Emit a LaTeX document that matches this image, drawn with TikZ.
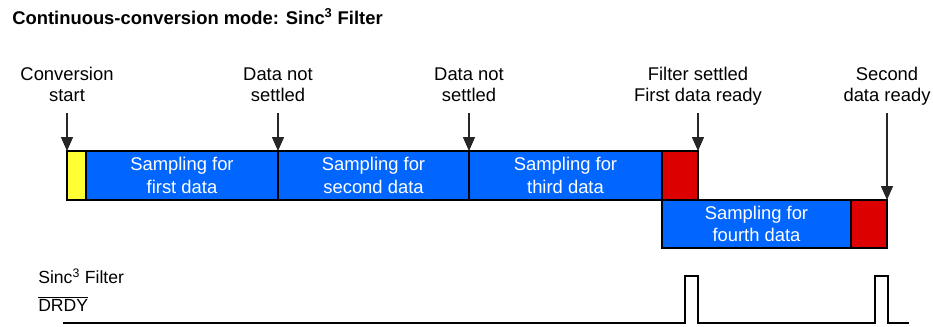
\documentclass[tikz,border=0pt]{standalone}
\usepackage{fontspec}
\setmainfont{Liberation Sans}
\usepackage{xcolor}
\usetikzlibrary{arrows.meta,positioning}

\definecolor{smpblue}{HTML}{0066FF}
\definecolor{startyellow}{HTML}{FFFF33}
\definecolor{readyred}{HTML}{DD0000}

\tikzset{
	slot/.style={draw=black, line width=1.5pt, inner sep=0pt, outer sep=0pt, text=white, align=center, font=\fontsize{13.8}{17}\selectfont},
	smp/.style={slot, fill=smpblue},
	rdy/.style={slot, fill=readyred},
	lbl/.style={inner sep=0pt, align=center, text depth=0pt, anchor=south, font=\fontsize{13.8}{15.8}\selectfont},
	sig/.style={inner sep=0pt, anchor=base west, font=\fontsize{13.2}{15.8}\selectfont},
	evt/.style={draw=black!85, line width=1.1pt, -{Triangle[length=10.5pt,width=9pt]}},
	wave/.style={draw=black, line width=1.5pt}
}

\begin{document}
\begin{tikzpicture}[x=0.75pt, y=-0.75pt]
	\useasboundingbox (0,0) rectangle (933,326);

	\node[anchor=base west, inner sep=0pt, font=\bfseries\fontsize{13.8}{16}\selectfont] (title) at (12,24) {Continuous-conversion mode: Sinc\textsuperscript{3} Filter};

	\node[slot, fill=startyellow, anchor=north west, minimum width=14.25pt, minimum height=36.75pt] (yel) at (67,151) {};
	\node[smp, right=0pt of yel, minimum width=144pt, minimum height=36.75pt] (s1) {Sampling for\\first data};
	\node[smp, right=0pt of s1, minimum width=143.25pt, minimum height=36.75pt] (s2) {Sampling for\\second data};
	\node[smp, right=0pt of s2, minimum width=144.75pt, minimum height=36.75pt] (s3) {Sampling for\\third data};
	\node[rdy, right=0pt of s3, minimum width=27pt, minimum height=36.75pt] (r1) {};

	\node[smp, anchor=north west, minimum width=141.75pt, minimum height=36pt] (s4) at (r1.south west) {Sampling for\\fourth data};
	\node[rdy, right=0pt of s4, minimum width=27pt, minimum height=36pt] (r2) {};

	\node[lbl] (lstart) at (67,102) {Conversion\\start};
	\node[lbl] (lns1) at (278,102) {Data not\\settled};
	\node[lbl] (lns2) at (469,102) {Data not\\settled};
	\node[lbl] (lfirst) at (698,102) {Filter settled\\First data ready};
	\node[lbl] (lsecond) at (887,102) {Second\\data ready};

	\draw[evt] ([yshift=-8.25pt]lstart.south) -- (yel.north west);
	\draw[evt] ([yshift=-8.25pt]lns1.south) -- (s1.north east);
	\draw[evt] ([yshift=-8.25pt]lns2.south) -- (s2.north east);
	\draw[evt] ([yshift=-8.25pt]lfirst.south) -- (r1.north east);
	\draw[evt] ([yshift=-8.25pt]lsecond.south) -- (r2.north east);

	\node[sig] (lsinc) at (38,283) {Sinc\textsuperscript{3} Filter};
	\node[sig] (ldrdy) at (38,311) {$\overline{\mbox{DRDY}}$};

	\draw[wave] (63,323) -- (685,323) -- (685,276) -- (698,276) -- (698,323) -- (875,323) -- (875,276) -- (888,276) -- (888,323) -- (909,323);
\end{tikzpicture}
\end{document}
